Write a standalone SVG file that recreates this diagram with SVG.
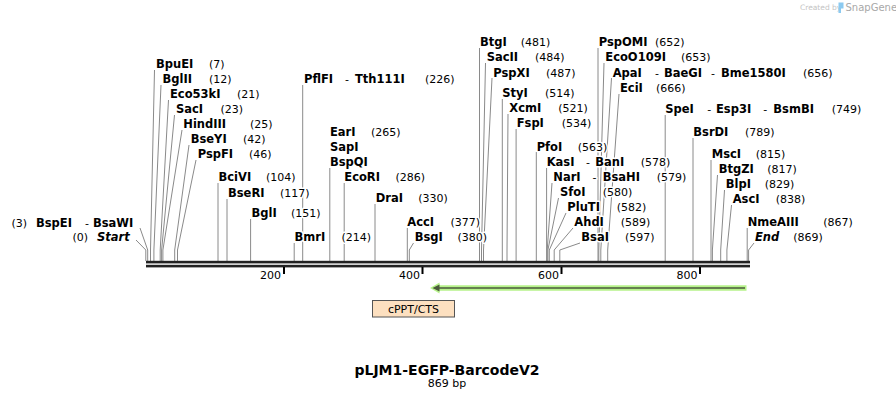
<svg xmlns="http://www.w3.org/2000/svg" width="896" height="400" viewBox="0 0 896 400">
<style>
text{font-family:"DejaVu Sans",Verdana,sans-serif;font-size:11px;fill:#000}
.l text{paint-order:stroke;stroke:#fff;stroke-width:3px;stroke-linejoin:round}
.b{font-weight:bold;font-size:11.5px}
.bi{font-weight:bold;font-style:italic;font-size:11.5px}
#connectors path{fill:none;stroke:#8a8a8a;stroke-width:1}
.tick{fill:#000}
.tl{text-anchor:end}
</style>
<rect width="896" height="400" fill="#fff"/>
<g id="connectors">
<path d="M140 228L147.7 250V261"/>
<path d="M136 240L145.8 250V261"/>
<path d="M154.5 70L150.5 250V261"/>
<path d="M161 85L153.9 250V261"/>
<path d="M168.5 100L160.2 250V261"/>
<path d="M174.5 115L161.6 250V261"/>
<path d="M182 130L162.9 250V261"/>
<path d="M189 145L174.7 250V261"/>
<path d="M196 160L177.5 250V261"/>
<path d="M218 183V261"/>
<path d="M227 199V261"/>
<path d="M250.6 219V261"/>
<path d="M294.2 243V261"/>
<path d="M302.7 85V261"/>
<path d="M329.8 168V261"/>
<path d="M344.2 183V261"/>
<path d="M375 204V261"/>
<path d="M407.3 228V261"/>
<path d="M413.5 243L409.3 250V261"/>
<path d="M479.5 48V261"/>
<path d="M485.5 63L481.5 250V261"/>
<path d="M492 78L483.5 250V261"/>
<path d="M502.3 99V261"/>
<path d="M508 114L507 250V261"/>
<path d="M516.1 129V261"/>
<path d="M536.3 152V261"/>
<path d="M546.6 168V261"/>
<path d="M552 183L547.2 250V261"/>
<path d="M558.5 198L547.9 250V261"/>
<path d="M566 213L549.3 250V261"/>
<path d="M573 228L554.2 250V261"/>
<path d="M580 243L559.8 250V261"/>
<path d="M598 48V261"/>
<path d="M604 63L598.8 250V261"/>
<path d="M611.5 78L600.8 250V261"/>
<path d="M619 94L607.7 250V261"/>
<path d="M665.2 115V261"/>
<path d="M693 138V261"/>
<path d="M711 160V261"/>
<path d="M717.5 175L712.4 250V261"/>
<path d="M724.5 190L720.7 250V261"/>
<path d="M731.5 205L726.9 250V261"/>
<path d="M747.2 228V261"/>
<path d="M754 243L748.6 250V261"/>
</g>
<g id="ruler">
<rect x="146" y="260.8" width="604" height="2.6" fill="#222"/>
<rect x="146" y="264.8" width="604" height="2.6" fill="#222"/>
<rect class="tick" x="283" y="267" width="2" height="7"/>
<rect class="tick" x="421.5" y="267" width="2" height="7"/>
<rect class="tick" x="560.5" y="267" width="2" height="7"/>
<rect class="tick" x="699" y="267" width="2" height="7"/>
<text class="tl" x="281" y="279">200</text>
<text class="tl" x="420" y="279">400</text>
<text class="tl" x="559" y="279">600</text>
<text class="tl" x="697.5" y="279">800</text>
</g>
<g id="feature-arrow">
<path d="M430 288L439.5 282.5V285.3H746.5V290.7H439.5V293.5Z" fill="#b6f28a"/>
<path d="M432.5 288L439.5 284.5V287.2H745V288.8H439.5V291.5Z" fill="#4b5a3c"/>
</g>
<g id="cPPT-CTS">
<rect x="372.5" y="300.5" width="82" height="16.5" fill="#fde0c0" stroke="#555" stroke-width="1"/>
<text x="413.5" y="312.5" text-anchor="middle">cPPT/CTS</text>
</g>
<g class="l">
<g id="BspEI-BsaWI"><text y="226.7"><tspan x="11.5">(3)</tspan><tspan x="36" class="b">BspEI</tspan><tspan x="85">-</tspan><tspan x="93" class="b">BsaWI</tspan></text></g>
<g id="Start"><text y="240.7"><tspan x="72.5">(0)</tspan><tspan x="97" class="bi">Start</tspan></text></g>
<g id="BpuEI"><text y="68"><tspan x="156" class="b">BpuEI</tspan><tspan x="209">(7)</tspan></text></g>
<g id="BglII"><text y="83"><tspan x="162.5" class="b">BglII</tspan><tspan x="209">(12)</tspan></text></g>
<g id="Eco53kI"><text y="98"><tspan x="170" class="b">Eco53kI</tspan><tspan x="237">(21)</tspan></text></g>
<g id="SacI"><text y="113"><tspan x="176" class="b">SacI</tspan><tspan x="220.5">(23)</tspan></text></g>
<g id="HindIII"><text y="128"><tspan x="183.3" class="b">HindIII</tspan><tspan x="250">(25)</tspan></text></g>
<g id="BseYI"><text y="143"><tspan x="190.7" class="b">BseYI</tspan><tspan x="243">(42)</tspan></text></g>
<g id="PspFI"><text y="158"><tspan x="197.7" class="b">PspFI</tspan><tspan x="249">(46)</tspan></text></g>
<g id="BciVI"><text y="181"><tspan x="218.5" class="b">BciVI</tspan><tspan x="266">(104)</tspan></text></g>
<g id="BseRI"><text y="196.5"><tspan x="228" class="b">BseRI</tspan><tspan x="280">(117)</tspan></text></g>
<g id="BglI"><text y="217"><tspan x="251.5" class="b">BglI</tspan><tspan x="291">(151)</tspan></text></g>
<g id="BmrI"><text y="241"><tspan x="294.5" class="b">BmrI</tspan><tspan x="341.5">(214)</tspan></text></g>
<g id="PflFI-Tth111I"><text y="83"><tspan x="304" class="b">PflFI</tspan><tspan x="345">-</tspan><tspan x="355" class="b">Tth111I</tspan><tspan x="425">(226)</tspan></text></g>
<g id="EarI-SapI-BspQI"><text y="136"><tspan x="330" class="b">EarI</tspan><tspan x="371">(265)</tspan></text><text y="151" x="330" class="b">SapI</text><text y="166" x="330" class="b">BspQI</text></g>
<g id="EcoRI"><text y="181"><tspan x="344.3" class="b">EcoRI</tspan><tspan x="395.5">(286)</tspan></text></g>
<g id="DraI"><text y="202"><tspan x="375.7" class="b">DraI</tspan><tspan x="418.3">(330)</tspan></text></g>
<g id="AccI"><text y="226"><tspan x="407.3" class="b">AccI</tspan><tspan x="450.5">(377)</tspan></text></g>
<g id="BsgI"><text y="241"><tspan x="414.7" class="b">BsgI</tspan><tspan x="457.5">(380)</tspan></text></g>
<g id="BtgI"><text y="46"><tspan x="480" class="b">BtgI</tspan><tspan x="520.7">(481)</tspan></text></g>
<g id="SacII"><text y="61"><tspan x="486.7" class="b">SacII</tspan><tspan x="535">(484)</tspan></text></g>
<g id="PspXI"><text y="76.5"><tspan x="493.3" class="b">PspXI</tspan><tspan x="546">(487)</tspan></text></g>
<g id="StyI"><text y="97"><tspan x="502.3" class="b">StyI</tspan><tspan x="545">(514)</tspan></text></g>
<g id="XcmI"><text y="112"><tspan x="509.3" class="b">XcmI</tspan><tspan x="558.3">(521)</tspan></text></g>
<g id="FspI"><text y="127"><tspan x="516.7" class="b">FspI</tspan><tspan x="561.7">(534)</tspan></text></g>
<g id="PfoI"><text y="150.5"><tspan x="536.7" class="b">PfoI</tspan><tspan x="577.7">(563)</tspan></text></g>
<g id="KasI-BanI"><text y="166"><tspan x="546.7" class="b">KasI</tspan><tspan x="586">-</tspan><tspan x="595.3" class="b">BanI</tspan><tspan x="640.7">(578)</tspan></text></g>
<g id="NarI-BsaHI"><text y="180.5"><tspan x="553.3" class="b">NarI</tspan><tspan x="592.5">-</tspan><tspan x="602.7" class="b">BsaHI</tspan><tspan x="656.7">(579)</tspan></text></g>
<g id="SfoI"><text y="196"><tspan x="560" class="b">SfoI</tspan><tspan x="602.7">(580)</tspan></text></g>
<g id="PluTI"><text y="210.5"><tspan x="567.3" class="b">PluTI</tspan><tspan x="616.7">(582)</tspan></text></g>
<g id="AhdI"><text y="225.5"><tspan x="574.3" class="b">AhdI</tspan><tspan x="620.7">(589)</tspan></text></g>
<g id="BsaI"><text y="240.5"><tspan x="581.3" class="b">BsaI</tspan><tspan x="625">(597)</tspan></text></g>
<g id="PspOMI"><text y="46"><tspan x="598.7" class="b">PspOMI</tspan><tspan x="655">(652)</tspan></text></g>
<g id="EcoO109I"><text y="61"><tspan x="605.3" class="b">EcoO109I</tspan><tspan x="681">(653)</tspan></text></g>
<g id="ApaI-BaeGI-Bme1580I"><text y="76.5"><tspan x="612.7" class="b">ApaI</tspan><tspan x="655">-</tspan><tspan x="664" class="b">BaeGI</tspan><tspan x="711">-</tspan><tspan x="721" class="b">Bme1580I</tspan><tspan x="803">(656)</tspan></text></g>
<g id="EciI"><text y="92"><tspan x="620" class="b">EciI</tspan><tspan x="656">(666)</tspan></text></g>
<g id="SpeI-Esp3I-BsmBI"><text y="113"><tspan x="665.3" class="b">SpeI</tspan><tspan x="707.3">-</tspan><tspan x="716" class="b">Esp3I</tspan><tspan x="763.3">-</tspan><tspan x="773.3" class="b">BsmBI</tspan><tspan x="831.7">(749)</tspan></text></g>
<g id="BsrDI"><text y="136"><tspan x="693.3" class="b">BsrDI</tspan><tspan x="745">(789)</tspan></text></g>
<g id="MscI"><text y="158"><tspan x="711.7" class="b">MscI</tspan><tspan x="755.7">(815)</tspan></text></g>
<g id="BtgZI"><text y="173"><tspan x="718.7" class="b">BtgZI</tspan><tspan x="767.3">(817)</tspan></text></g>
<g id="BlpI"><text y="188"><tspan x="725.7" class="b">BlpI</tspan><tspan x="764.7">(829)</tspan></text></g>
<g id="AscI"><text y="202.7"><tspan x="732.7" class="b">AscI</tspan><tspan x="775.7">(838)</tspan></text></g>
<g id="NmeAIII"><text y="226"><tspan x="747.7" class="b">NmeAIII</tspan><tspan x="823.3">(867)</tspan></text></g>
<g id="End"><text y="240.7"><tspan x="755" class="bi">End</tspan><tspan x="793.3">(869)</tspan></text></g>
</g>
<g id="title">
<text x="447" y="375" text-anchor="middle" style="font-size:14px;font-weight:bold">pLJM1-EGFP-BarcodeV2</text>
<text x="447" y="387" text-anchor="middle">869 bp</text>
</g>
<g id="watermark">
<text x="800" y="10" style="font-size:7.5px;fill:#c4c4c4">Created by</text>
<path d="M838.5 2.5H843.5V8.5H841V13H838.5Z" fill="#8ccaf0"/>
<text x="845.5" y="11" style="font-size:10px;fill:#a8a8a8">SnapGene</text>
</g>
</svg>
